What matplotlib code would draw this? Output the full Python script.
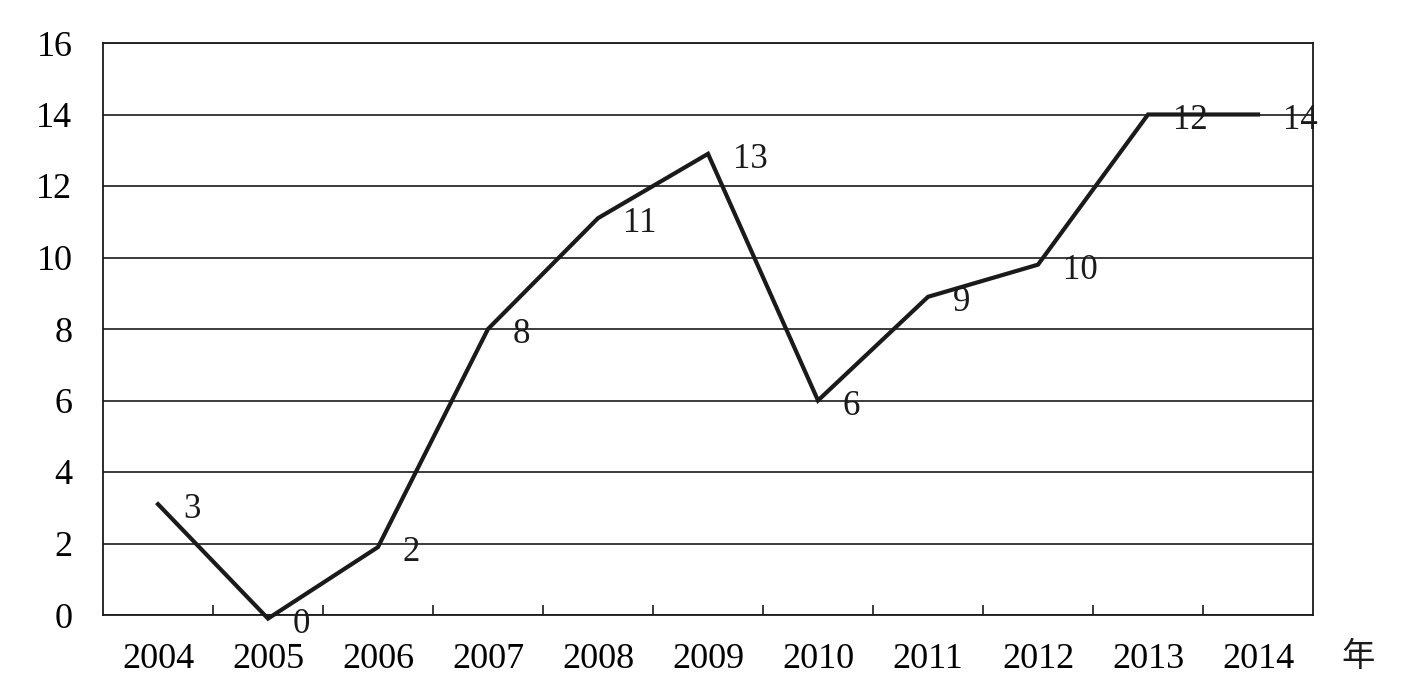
import matplotlib
matplotlib.use("Agg")
import matplotlib.pyplot as plt
import numpy as np

years = ["2004", "2005", "2006", "2007", "2008", "2009", "2010",
         "2011", "2012", "2013", "2014"]
values = [3.1, -0.1, 1.9, 8.0, 11.1, 12.9, 6.0, 8.9, 9.8, 14.0, 14.0]
point_labels = ["3", "0", "2", "8", "11", "13", "6", "9", "10", "12", "14"]
y_ticks = [0, 2, 4, 6, 8, 10, 12, 14, 16]

plt.rcParams['font.family'] = ['Liberation Serif', 'Noto Sans CJK SC', 'DejaVu Sans']

fig = plt.figure(figsize=(14.1, 6.97), dpi=100)
ax = fig.add_axes([103 / 1410, 82 / 697, 1210 / 1410, 572 / 697])

x = np.arange(len(years))
ax.plot(x, values, color='#1a1a1a', linewidth=3.0, solid_joinstyle='miter',
        clip_on=False, zorder=3)

for xi, v, lab in zip(x, values, point_labels):
    ax.annotate(lab, (xi, v), xytext=(18, -4), textcoords='offset points',
                ha='left', va='center', fontsize=25, color='#1a1a1a',
                annotation_clip=False, zorder=4)

ax.set_xlim(-0.5, len(years) - 0.5)
ax.set_ylim(0, 16)

# category boundaries carry the tick marks, labels sit at the centres
ax.set_xticks(np.arange(0.5, len(years) - 0.5, 1))
ax.set_xticklabels([])
ax.set_xticks(x, minor=True)
ax.set_xticklabels(years, minor=True, fontsize=26)
ax.tick_params(axis='x', which='major', direction='in', length=7, width=1.2, color='#1a1a1a')
ax.tick_params(axis='x', which='minor', length=0, pad=20)

ax.set_yticks(y_ticks)
ax.set_yticklabels([str(t) for t in y_ticks], fontsize=26)
ax.tick_params(axis='y', length=0, pad=22)

ax.grid(axis='y', color='#1a1a1a', linewidth=1.2)
ax.set_axisbelow(True)
for s in ax.spines.values():
    s.set_linewidth(1.3)
    s.set_color('#1a1a1a')

ax.text(1358 / 1410, 40 / 697, "年", transform=fig.transFigure,
        ha='center', va='center', fontsize=24, color='#1a1a1a')

fig.savefig("out.png", dpi=100)
